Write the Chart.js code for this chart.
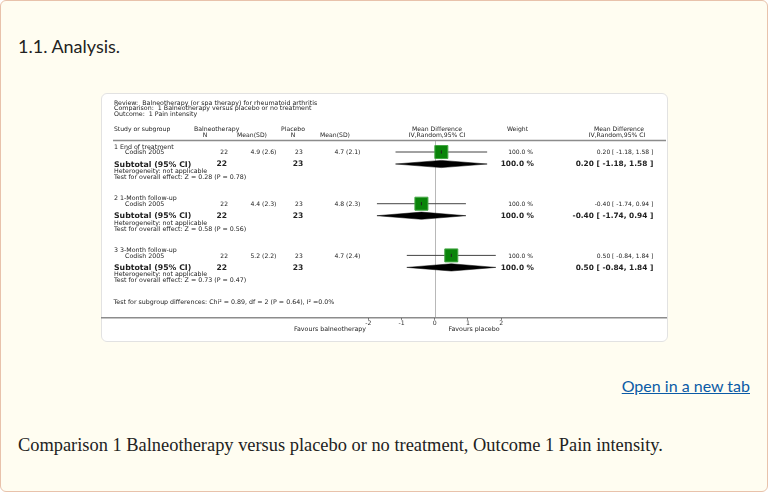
<!DOCTYPE html>
<html>
<head>
<meta charset="utf-8">
<script src="https://cdn.jsdelivr.net/npm/chart.js@4.4.1/dist/chart.umd.min.js"></script>
<style>
  html, body { margin: 0; padding: 0; background: #ffffff; }
  #page { position: absolute; left: 0; top: 0; width: 768px; height: 492px; box-sizing: border-box;
          border: 1px solid #e8c2ab; border-radius: 6px; background: #fffdf1; overflow: hidden; }
  #title { position: absolute; left: 17px; top: 34px; font: 18px Lato, sans-serif; color: #222; }
  #box { position: absolute; left: 100px; top: 92px; width: 567px; height: 249px; box-sizing: border-box;
         background: #fff; border: 1px solid #e2e2e2; border-radius: 6px; }
  #link { position: absolute; right: 17px; top: 375px; font: 16px Lato, sans-serif; color: #0b5ba6; text-decoration: underline; }
  #caption { position: absolute; left: 17px; top: 434px; font: 18.4px "Liberation Serif", serif; color: #222; }
  #c { position: absolute; left: 0; top: 0; }
</style>
</head>
<body>
<div id="page">
  <div id="title">1.1. Analysis.</div>
  <div id="box"></div>
  <div id="link">Open in a new tab</div>
  <div id="caption">Comparison 1 Balneotherapy versus placebo or no treatment, Outcome 1 Pain intensity.</div>
</div>
<canvas id="c" width="768" height="492"></canvas>
<script>
// ---- data ----
const reviewLines = [
  'Review:  Balneotherapy (or spa therapy) for rheumatoid arthritis',
  'Comparison:  1 Balneotherapy versus placebo or no treatment',
  'Outcome:  1 Pain intensity'
];
const subgroups = ['1 End of treatment', '2 1-Month follow-up', '3 3-Month follow-up'];
const studies = ['Codish 2005', 'Codish 2005', 'Codish 2005'];
const expN = [22, 22, 22];
const expMean = [4.9, 4.4, 5.2];
const expSD = [2.6, 2.3, 2.2];
const ctlN = [23, 23, 23];
const ctlMean = [4.7, 4.8, 4.7];
const ctlSD = [2.1, 2.3, 2.4];
const meanDiff = [0.20, -0.40, 0.50];
const ciLow = [-1.18, -1.74, -0.84];
const ciHigh = [1.58, 0.94, 1.84];
const weights = [100.0, 100.0, 100.0];
const zStat = [0.28, 0.58, 0.73];
const pVal = [0.78, 0.56, 0.47];
const xTicks = [-2, -1, 0, 1, 2];
const favoursLabels = ['Favours balneotherapy', 'Favours placebo'];
const subgroupTest = 'Test for subgroup differences: Chi\u00b2 = 0.89, df = 2 (P = 0.64), I\u00b2 =0.0%';

// ---- layout helpers ----
const rowOf = k => k + 1;          // study row for section k
const DIAMOND_OFF = 0.232;          // subtotal row offset (row units)
const DIAMOND_H = 0.07;             // diamond half height (row units)

const f2 = v => v.toFixed(2);
const ciText = k => f2(meanDiff[k]) + ' [ ' + f2(ciLow[k]) + ', ' + f2(ciHigh[k]) + ' ]';

const datasets = [];
// CI lines
for (let k = 0; k < subgroups.length; k++) {
  datasets.push({
    type: 'line', data: [{x: ciLow[k], y: rowOf(k)}, {x: ciHigh[k], y: rowOf(k)}],
    borderColor: '#444', borderWidth: 1, pointRadius: 0, showLine: true, fill: false, order: 3
  });
}
// diamonds
for (let k = 0; k < subgroups.length; k++) {
  const y = rowOf(k) + DIAMOND_OFF;
  datasets.push({
    type: 'line',
    data: [{x: ciLow[k], y: y}, {x: meanDiff[k], y: y - DIAMOND_H}, {x: ciHigh[k], y: y},
           {x: meanDiff[k], y: y + DIAMOND_H}, {x: ciLow[k], y: y}],
    borderColor: '#000', backgroundColor: '#000', borderWidth: 0.5, pointRadius: 0,
    showLine: true, fill: 'shape', tension: 0, order: 2
  });
}
// squares
datasets.push({
  type: 'scatter',
  data: meanDiff.map((v, k) => ({x: v, y: rowOf(k)})),
  pointStyle: 'rect', pointRadius: 9.2, backgroundColor: '#0a840a', borderColor: '#45a845', borderWidth: 1, order: 1
});
// centre tick
datasets.push({
  type: 'scatter',
  data: meanDiff.map((v, k) => ({x: v, y: rowOf(k)})),
  pointStyle: 'line', rotation: 90, pointRadius: 1.6, borderColor: '#222', borderWidth: 1, order: 0
});

const FONT = '"DejaVu Sans", Verdana, sans-serif';
const forestText = {
  id: 'forestText',
  beforeDatasetsDraw(chart) {
    const ctx = chart.ctx, x = chart.scales.x, ca = chart.chartArea;
    const x0 = x.getPixelForValue(0);
    ctx.save();
    ctx.strokeStyle = '#b8b8b8'; ctx.lineWidth = 1;
    ctx.beginPath(); ctx.moveTo(Math.round(x0) + 0.5, 141); ctx.lineTo(Math.round(x0) + 0.5, ca.bottom); ctx.stroke();
    ctx.restore();
  },
  afterDraw(chart) {
    const ctx = chart.ctx, y = chart.scales.y, ca = chart.chartArea;
    ctx.save();
    ctx.fillStyle = '#222';
    ctx.textBaseline = 'middle';
    const txt = (s, px, py, align, size, bold) => {
      ctx.font = (bold ? 'bold ' : '') + size + 'px ' + FONT;
      ctx.textAlign = align || 'left';
      ctx.fillText(s, px, py);
    };
    const R = 6.3;
    // header
    reviewLines.forEach((s, i) => txt(s, 114, 103 + i * 5.8, 'left', R));
    txt('Study or subgroup', 114, 129.5, 'left', 6.1);
    txt('Balneotherapy', 194, 129.5, 'left', 6.2);
    txt('N', 205, 135.7, 'center', 6.1);
    txt('Mean(SD)', 252, 135.7, 'center', 6.1);
    txt('Placebo', 293, 129.5, 'center', 6.1);
    txt('N', 293, 135.7, 'center', 6.1);
    txt('Mean(SD)', 335, 135.7, 'center', 6.1);
    txt('Mean Difference', 437, 129.5, 'center', 6.1);
    txt('IV,Random,95% CI', 437, 135.7, 'center', 6.1);
    txt('Weight', 517.5, 129.5, 'center', 6.1);
    txt('Mean Difference', 619, 129.5, 'center', 6.1);
    txt('IV,Random,95% CI', 617, 135.7, 'center', 6.1);
    // header rule
    ctx.strokeStyle = '#8c8c8c'; ctx.lineWidth = 1.5;
    ctx.beginPath(); ctx.moveTo(113, 140.5); ctx.lineTo(666, 140.5); ctx.stroke();
    // sections
    for (let k = 0; k < subgroups.length; k++) {
      const b = y.getPixelForValue(rowOf(k));
      txt(subgroups[k], 114, b - 5, 'left', R);
      txt(studies[k], 125, b + 0.8, 'left', R);
      txt(String(expN[k]), 228, b + 0.8, 'right', 6);
      txt(expMean[k].toFixed(1) + ' (' + expSD[k].toFixed(1) + ')', 276.5, b + 0.8, 'right', 6.1);
      txt(String(ctlN[k]), 302.7, b + 0.8, 'right', 6);
      txt(ctlMean[k].toFixed(1) + ' (' + ctlSD[k].toFixed(1) + ')', 360.5, b + 0.8, 'right', 6.1);
      txt(weights[k].toFixed(1) + ' %', 533, b + 0.8, 'right', 6);
      txt(ciText(k), 653.3, b + 0.8, 'right', 6);
      const s = b + 12.5;
      txt('Subtotal (95% CI)', 114, s, 'left', 7.8, true);
      txt(String(expN[k]), 227, s, 'right', 7.6, true);
      txt(String(ctlN[k]), 303.3, s, 'right', 7.6, true);
      txt(weights[k].toFixed(1) + ' %', 534, s, 'right', 7.4, true);
      txt(ciText(k), 653.3, s, 'right', 7.4, true);
      txt('Heterogeneity: not applicable', 114, b + 19.3, 'left', R);
      txt('Test for overall effect: Z = ' + f2(zStat[k]) + ' (P = ' + f2(pVal[k]) + ')', 114, b + 25.2, 'left', R);
    }
    txt(subgroupTest, 113.5, 302, 'left', R);
    // axis rule
    ctx.strokeStyle = '#8c8c8c'; ctx.lineWidth = 1.5;
    ctx.beginPath(); ctx.moveTo(101, ca.bottom); ctx.lineTo(667, ca.bottom); ctx.stroke();
    txt(favoursLabels[0], 330, 329, 'center', R);
    txt(favoursLabels[1], 474, 329, 'center', R);
    ctx.restore();
  }
};

const AXIS_H = 14;
const AXIS_Y = 317.7;
new Chart(document.getElementById('c'), {
  type: 'scatter',
  data: { datasets: datasets },
  options: {
    responsive: false,
    animation: false,
    devicePixelRatio: 1,
    layout: { padding: { left: 368.3, right: 768 - 501.1, top: 91, bottom: 492 - AXIS_Y - AXIS_H } },
    plugins: { legend: { display: false }, tooltip: { enabled: false } },
    scales: {
      x: {
        type: 'linear', min: xTicks[0], max: xTicks[xTicks.length - 1],
        afterBuildTicks: s => { s.ticks = xTicks.map(v => ({value: v})); },
        afterFit: s => { s.height = AXIS_H; },
        border: { display: false },
        grid: { drawOnChartArea: false, drawTicks: true, tickLength: 2, color: '#555' },
        ticks: { padding: 0, color: '#333', font: { family: FONT, size: 6.2 }, maxRotation: 0 }
      },
      y: {
        type: 'linear', display: false, reverse: true, min: -0.18, max: -0.18 + (AXIS_Y - 91) / 51.7
      }
    }
  },
  plugins: [forestText]
});
</script>
</body>
</html>
